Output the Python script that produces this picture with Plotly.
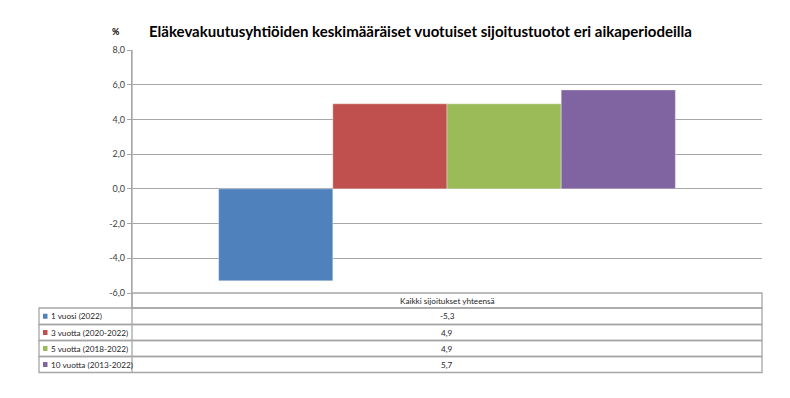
import plotly.graph_objects as go

# ---- data ----
title_text = "Eläkevakuutusyhtiöiden keskimääräiset vuotuiset sijoitustuotot eri aikaperiodeilla"
category = "Kaikki sijoitukset yhteensä"
series_names = ["1 vuosi (2022)", "3 vuotta (2020-2022)", "5 vuotta (2018-2022)", "10 vuotta (2013-2022)"]
series_values = [-5.3, 4.9, 4.9, 5.7]
series_labels = ["-5,3", "4,9", "4,9", "5,7"]
series_colors = ["#4F81BD", "#C0504D", "#9BBB59", "#8064A2"]
y_tickvals = [-6, -4, -2, 0, 2, 4, 6, 8]
y_ticktext = ["-6,0", "-4,0", "-2,0", "0,0", "2,0", "4,0", "6,0", "8,0"]

# ---- geometry (pixels) ----
FW, FH = 790, 398
L, R, T, B = 132, 762, 50, 293
W, H = R - L, B - T


def px_x(x):
    return (x - L) / W


def px_y(y):
    return (B - y) / H


fig = go.Figure()
for name, val, col in zip(series_names, series_values, series_colors):
    fig.add_trace(go.Bar(
        x=[category], y=[val], name=name,
        marker=dict(color=col, line=dict(color="rgba(255,255,255,0.6)", width=0.6)),
        showlegend=False,
    ))

grid = "#A6A6A6"
txt = "#262626"
tfont = "Lato"
shapes = []
annotations = []

# table geometry
tbl_left = 39
hdr_top, hdr_bot = 293, 308
row_lines = [308, 324.5, 340.5, 356.5, 372.5]

line = dict(color=grid, width=1.3)
shapes.append(dict(type="rect", xref="paper", yref="paper",
                   x0=px_x(L), x1=px_x(R), y0=px_y(hdr_bot), y1=px_y(hdr_top), line=line))
for i in range(len(series_names)):
    shapes.append(dict(type="rect", xref="paper", yref="paper",
                       x0=px_x(tbl_left), x1=px_x(R), y0=px_y(row_lines[i + 1]), y1=px_y(row_lines[i]),
                       line=line))
shapes.append(dict(type="line", xref="paper", yref="paper",
                   x0=0, x1=0, y0=px_y(row_lines[-1]), y1=1, line=line))

annotations.append(dict(xref="paper", yref="paper", x=px_x((L + R) / 2), y=px_y((hdr_top + hdr_bot) / 2),
                        text=category, showarrow=False, xanchor="center", yanchor="middle",
                        font=dict(size=8.2, color=txt, family=tfont)))

for i, (name, lab, col) in enumerate(zip(series_names, series_labels, series_colors)):
    ymid = (row_lines[i] + row_lines[i + 1]) / 2
    shapes.append(dict(type="rect", xref="paper", yref="paper",
                       x0=px_x(43), x1=px_x(47.5), y0=px_y(ymid + 2.5), y1=px_y(ymid - 2.5),
                       fillcolor=col, line=dict(width=0)))
    annotations.append(dict(xref="paper", yref="paper", x=px_x(49), y=px_y(ymid),
                            text=name, showarrow=False, xanchor="left", yanchor="middle",
                            font=dict(size=8.2, color=txt, family=tfont)))
    annotations.append(dict(xref="paper", yref="paper", x=px_x((L + R) / 2), y=px_y(ymid),
                            text=lab, showarrow=False, xanchor="center", yanchor="middle",
                            font=dict(size=8.2, color=txt, family=tfont)))

annotations.append(dict(xref="paper", yref="paper", x=px_x(147), y=px_y(31),
                        text="<b>" + title_text + "</b>", showarrow=False, xanchor="left", yanchor="middle",
                        font=dict(size=15, color="#000000", family=tfont)))
annotations.append(dict(xref="paper", yref="paper", x=px_x(116), y=px_y(31),
                        text="<b>%</b>", showarrow=False, xanchor="center", yanchor="middle",
                        font=dict(size=9, color="#000000", family=tfont)))

fig.update_layout(
    width=FW, height=FH,
    margin=dict(l=L, r=FW - R, t=T, b=FH - B, pad=0),
    paper_bgcolor="white", plot_bgcolor="white",
    barmode="group", bargap=0.275, bargroupgap=0,
    separators=", ",
    xaxis=dict(showticklabels=False, showgrid=False, zeroline=False, showline=False, ticks=""),
    yaxis=dict(range=[-6, 8], tickvals=y_tickvals, ticktext=y_ticktext,
               showgrid=True, gridcolor=grid, gridwidth=1.2,
               zeroline=True, zerolinecolor=grid, zerolinewidth=1.2,
               showline=True, linecolor=grid, linewidth=1.3,
               ticks="outside", ticklen=4, tickcolor=grid, tickwidth=1.2,
               tickfont=dict(size=9, color="#404040", family=tfont)),
    shapes=shapes, annotations=annotations,
)

fig.write_html("out.html", config={"displayModeBar": False},
               post_script="document.body.style.margin='0';document.body.style.overflow='hidden';")
